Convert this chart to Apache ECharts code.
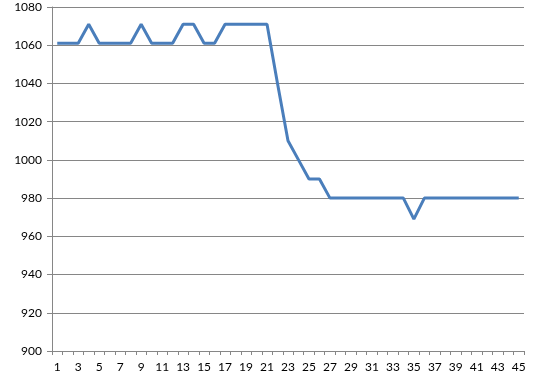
<!DOCTYPE html>
<html><head><meta charset="utf-8">
<script src="https://cdn.jsdelivr.net/npm/echarts@6/dist/echarts.min.js"></script>
<style>html,body{margin:0;padding:0;background:#fff}#c{width:534px;height:383px}</style>
</head><body><div id="c"></div>
<script>
var categories = [];
for (var i = 1; i <= 45; i++) categories.push(String(i));
var values = [1061,1061,1061,1071,1061,1061,1061,1061,1071,1061,
              1061,1061,1071,1071,1061,1061,1071,1071,1071,1071,
              1071,1040,1010,1000,990,990,980,980,980,980,
              980,980,980,980,969,980,980,980,980,980,
              980,980,980,980,980];
var yMin = 900, yMax = 1080, yStep = 20;

var chart = echarts.init(document.getElementById('c'));
chart.setOption({
  animation: false,
  grid: {left: 52, right: 10, top: 7, bottom: 32},
  xAxis: {
    type: 'category', data: categories, boundaryGap: true,
    axisLine: {lineStyle: {color: '#868686', width: 1}},
    axisTick: {show: true, length: 4, interval: 0, lineStyle: {color: '#868686'}},
    axisLabel: {interval: 1, margin: 10, color: '#000', fontFamily: 'Lato', fontSize: 12}
  },
  yAxis: {
    type: 'value', min: yMin, max: yMax, interval: yStep,
    axisLine: {show: true, lineStyle: {color: '#868686', width: 1}},
    axisTick: {show: true, length: 5, lineStyle: {color: '#868686'}},
    splitLine: {lineStyle: {color: '#868686', width: 1}},
    axisLabel: {margin: 10, color: '#000', fontFamily: 'Lato', fontSize: 12,
      formatter: function (v) { return String(v); }}
  },
  series: [{
    type: 'line', data: values, symbol: 'none',
    lineStyle: {color: '#4a7ebb', width: 3}
  }]
});
</script></body></html>
